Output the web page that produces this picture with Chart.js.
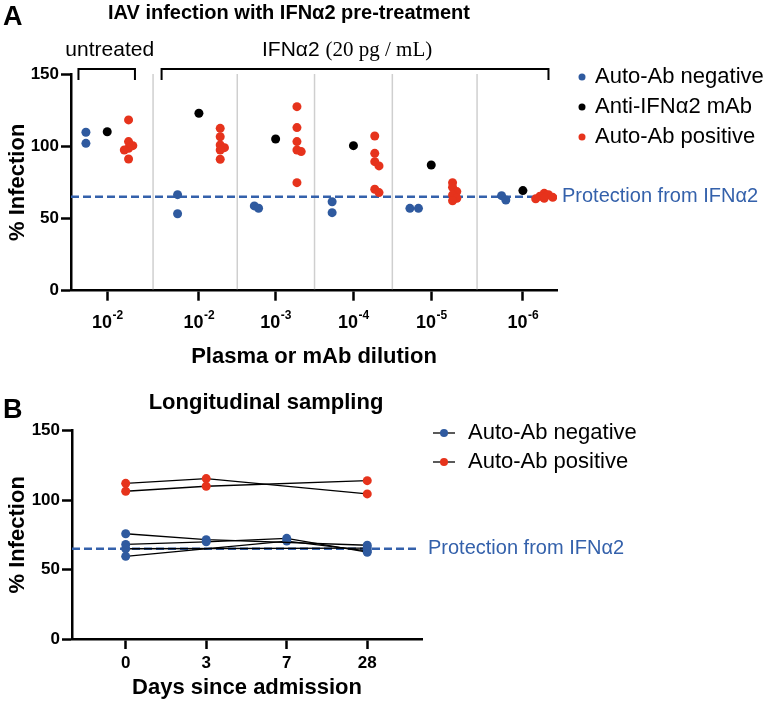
<!DOCTYPE html>
<html>
<head>
<meta charset="utf-8">
<script src="https://cdn.jsdelivr.net/npm/chart.js@4.4.1/dist/chart.umd.min.js"></script>
<style>
  body { margin: 0; background: #fff; width: 777px; height: 701px; overflow: hidden; position: relative; }
  canvas { position: absolute; left: 0; }
  #chartA { top: 0; }
  #chartB { top: 380px; }
</style>
</head>
<body>
<canvas id="chartA" width="777" height="380"></canvas>
<canvas id="chartB" width="777" height="321"></canvas>
<script>
// ---- data, panel A ----
const dilutionExp = ['-2', '-2', '-3', '-4', '-5', '-6'];
const negValues = [[109.7, 102], [66.5, 53.3], [58.7, 57.1], [61.6, 54], [57, 57], [65.8, 62.8]];
const mabValues = [110, 122.8, 105, 100.4, 87, 69.3];
const posValues = [
  [118.2, 103.2, 100.4, 98.6, 97.4, 91.2],
  [112.4, 106.6, 100.9, 99, 97.4, 91],
  [127.4, 112.9, 103.2, 97.4, 96.3, 74.8],
  [107.1, 95.1, 89.3, 86.4, 70.2, 67.9],
  [74.8, 71.6, 68.6, 66.3, 64, 62.3],
  [67.4, 66.4, 65.4, 64.6, 64, 63.6]
];
const yTicks = [0, 50, 100, 150];
const protectionLevel = 65;

// ---- data, panel B ----
const days = ['0', '3', '7', '28'];
const negSeries = [
  [75.8, 71.5, null, 67.5],
  [68.1, 70, 72.5, 62.5],
  [65, null, null, 65.5],
  [59.5, null, 70.5, 63.5]
];
const posSeries = [
  [112.1, 115.5, null, 104.5],
  [106.4, 110, null, 114]
];

// ---- style / layout ----
const SANS = '"Liberation Sans", Arial, sans-serif';
const BLUE = '#2f5a9f';
const RED = '#e6331c';
const DASH = '#3461ab';
Chart.defaults.font.family = SANS;
Chart.defaults.color = '#000';

// centre column of every group on the x axis (1 unit = one column)
const groupPos = [1.7, 6.0, 9.6, 13.25, 16.9, 21.2];
const X_MAX_A = 22.8;
const PX_X = 486 / X_MAX_A, PX_Y = 216.7 / 150;

function swarm(vals) {
  const placed = [];
  const steps = [0, 0.2, -0.2, 0.4, -0.4, 0.6, -0.6];
  return vals.map(v => {
    for (const dx of steps) {
      if (placed.every(p => Math.hypot((p.dx - dx) * PX_X, (p.v - v) * PX_Y) >= 4.5)) {
        placed.push({dx, v});
        return dx;
      }
    }
    placed.push({dx: 0, v});
    return 0;
  });
}

function columnPoints(groups, col) {
  const out = [];
  groups.forEach((vals, g) => {
    const arr = Array.isArray(vals) ? vals : [vals];
    const off = swarm(arr);
    arr.forEach((v, i) => out.push({x: groupPos[g] + col + off[i], y: v}));
  });
  return out;
}

function axisCommon() {
  return {
    grid: { drawOnChartArea: false, drawTicks: true, tickLength: 10, tickColor: '#000', tickWidth: 2.5 },
    border: { color: '#000', width: 2.5 }
  };
}

// ---- panel A ----
const decorA = {
  id: 'decorA',
  beforeDatasetsDraw(chart) {
    const {ctx, chartArea: ca, scales: {x, y}} = chart;
    ctx.save();
    ctx.strokeStyle = '#cfcfcf';
    ctx.lineWidth = 1.5;
    for (let i = 0; i < groupPos.length - 1; i++) {
      const px = x.getPixelForValue((groupPos[i] + groupPos[i + 1]) / 2);
      ctx.beginPath();
      ctx.moveTo(px, ca.top);
      ctx.lineTo(px, ca.bottom - 1.5);
      ctx.stroke();
    }
    const py = y.getPixelForValue(protectionLevel);
    ctx.strokeStyle = DASH;
    ctx.lineWidth = 2.5;
    ctx.setLineDash([8, 4]);
    ctx.beginPath();
    ctx.moveTo(ca.left, py);
    ctx.lineTo(ca.right, py);
    ctx.stroke();
    ctx.restore();
  },
  afterDraw(chart) {
    const {ctx, chartArea: ca, scales: {x, y}} = chart;
    ctx.save();
    ctx.fillStyle = '#000';
    ctx.textBaseline = 'alphabetic';

    ctx.font = 'bold 27px ' + SANS;
    ctx.textAlign = 'left';
    ctx.fillText('A', 3, 25);

    ctx.font = 'bold 20px ' + SANS;
    ctx.textAlign = 'center';
    ctx.fillText('IAV infection with IFNα2 pre-treatment', 289, 18.5);

    // brackets and group labels
    ctx.strokeStyle = '#000';
    ctx.lineWidth = 2;
    const bracket = (x1, x2) => {
      ctx.beginPath();
      ctx.moveTo(x1, 80); ctx.lineTo(x1, 69); ctx.lineTo(x2, 69); ctx.lineTo(x2, 80);
      ctx.stroke();
    };
    const b1l = x.getPixelForValue(groupPos[0] - 1.35), b1r = x.getPixelForValue(groupPos[0] + 1.3);
    bracket(b1l, b1r);
    bracket(x.getPixelForValue(groupPos[1] - 1.75), x.getPixelForValue(groupPos[5] + 1.2));
    ctx.font = '21px ' + SANS;
    ctx.fillText('untreated', (b1l + b1r) / 2 + 3, 56);
    ctx.textAlign = 'left';
    ctx.fillText('IFNα2', 262, 56);
    const w = ctx.measureText('IFNα2 ').width;
    ctx.font = '21px "Liberation Serif", "Times New Roman", serif';
    ctx.fillText('(20 pg / mL)', 262 + w, 56);

    // x tick labels 10^n
    groupPos.forEach((g, i) => {
      const px = x.getPixelForValue(g);
      ctx.font = 'bold 18px ' + SANS;
      const w1 = ctx.measureText('10').width;
      ctx.font = 'bold 12px ' + SANS;
      const w2 = ctx.measureText(dilutionExp[i]).width;
      const left = px - (w1 + w2) / 2;
      ctx.font = 'bold 18px ' + SANS;
      ctx.fillText('10', left, 328);
      ctx.font = 'bold 12px ' + SANS;
      ctx.fillText(dilutionExp[i], left + w1 + 0.5, 319);
    });

    // protection label
    ctx.font = '20px ' + SANS;
    ctx.fillStyle = DASH;
    ctx.textBaseline = 'middle';
    ctx.fillText('Protection from IFNα2', ca.right + 5, y.getPixelForValue(protectionLevel));

    // legend
    chart.data.datasets.forEach((ds, i) => {
      const ly = 77 + i * 30;
      ctx.fillStyle = ds.backgroundColor;
      ctx.beginPath();
      ctx.arc(582, ly, 3.5, 0, Math.PI * 2);
      ctx.fill();
      ctx.fillStyle = '#000';
      ctx.font = '22px ' + SANS;
      ctx.fillText(ds.label, 595, ly);
    });
    ctx.restore();
  }
};

new Chart(document.getElementById('chartA'), {
  type: 'scatter',
  data: {
    datasets: [
      { label: 'Auto-Ab negative', data: columnPoints(negValues, -1), backgroundColor: BLUE, borderColor: BLUE },
      { label: 'Anti-IFNα2 mAb', data: columnPoints(mabValues, 0), backgroundColor: '#000', borderColor: '#000' },
      { label: 'Auto-Ab positive', data: columnPoints(posValues, 1), backgroundColor: RED, borderColor: RED }
    ]
  },
  options: {
    responsive: false,
    animation: false,
    layout: { padding: { top: 74, right: 220, bottom: 0, left: 0 } },
    elements: { point: { radius: 4.5, borderWidth: 0 } },
    plugins: { legend: { display: false }, tooltip: { enabled: false } },
    scales: {
      x: Object.assign(axisCommon(), {
        type: 'linear', min: 0, max: X_MAX_A,
        afterBuildTicks: s => { s.ticks = groupPos.map(v => ({value: v})); },
        afterFit: s => { s.height = 89.3; },
        ticks: { display: false },
        title: { display: true, text: 'Plasma or mAb dilution', color: '#000',
                 font: { size: 22, weight: 'bold' }, padding: { top: 0, bottom: 10 } }
      }),
      y: Object.assign(axisCommon(), {
        min: 0, max: 150,
        afterBuildTicks: s => { s.ticks = yTicks.map(v => ({value: v})); },
        afterFit: s => { s.width = 71; },
        ticks: { color: '#000', font: { size: 17, weight: 'bold' }, padding: 2 },
        title: { display: true, text: '% Infection', color: '#000',
                 font: { size: 22, weight: 'bold' }, padding: { top: 5, bottom: 0 } }
      })
    }
  },
  plugins: [decorA]
});

// ---- panel B ----
const decorB = {
  id: 'decorB',
  beforeDatasetsDraw(chart) {
    const {ctx, chartArea: ca, scales: {y}} = chart;
    const py = y.getPixelForValue(protectionLevel);
    ctx.save();
    ctx.strokeStyle = DASH;
    ctx.lineWidth = 2.5;
    ctx.setLineDash([8, 4]);
    ctx.beginPath();
    ctx.moveTo(ca.left, py);
    ctx.lineTo(ca.right - 4, py);
    ctx.stroke();
    ctx.restore();
  },
  afterDraw(chart) {
    const {ctx, chartArea: ca, scales: {y}} = chart;
    ctx.save();
    ctx.fillStyle = '#000';
    ctx.textBaseline = 'alphabetic';
    ctx.font = 'bold 27px ' + SANS;
    ctx.textAlign = 'left';
    ctx.fillText('B', 3, 38);
    ctx.font = 'bold 22px ' + SANS;
    ctx.textAlign = 'center';
    ctx.fillText('Longitudinal sampling', 266, 29);

    ctx.textAlign = 'left';
    ctx.textBaseline = 'middle';
    ctx.font = '20px ' + SANS;
    ctx.fillStyle = DASH;
    ctx.fillText('Protection from IFNα2', ca.right + 6, y.getPixelForValue(protectionLevel));

    const items = [
      { label: 'Auto-Ab negative', color: BLUE },
      { label: 'Auto-Ab positive', color: RED }
    ];
    items.forEach((it, i) => {
      const ly = 53 + i * 29;
      ctx.strokeStyle = '#000';
      ctx.lineWidth = 1.3;
      ctx.beginPath();
      ctx.moveTo(433, ly); ctx.lineTo(455, ly);
      ctx.stroke();
      ctx.fillStyle = it.color;
      ctx.beginPath();
      ctx.arc(444, ly, 4, 0, Math.PI * 2);
      ctx.fill();
      ctx.fillStyle = '#000';
      ctx.font = '22px ' + SANS;
      ctx.fillText(it.label, 468, ly);
    });
    ctx.restore();
  }
};

function seriesDataset(values, color, label) {
  return {
    label: label,
    data: values.map((v, i) => ({x: i, y: v})),
    borderColor: '#000',
    borderWidth: 1.3,
    pointBackgroundColor: color,
    pointBorderColor: color,
    pointBorderWidth: 0,
    pointRadius: 4.5,
    spanGaps: true
  };
}

new Chart(document.getElementById('chartB'), {
  type: 'line',
  data: {
    datasets: negSeries.map(s => seriesDataset(s, BLUE, 'Auto-Ab negative'))
      .concat(posSeries.map(s => seriesDataset(s, RED, 'Auto-Ab positive')))
  },
  options: {
    responsive: false,
    animation: false,
    layout: { padding: { top: 50.7, right: 355, bottom: 0, left: 0 } },
    plugins: { legend: { display: false }, tooltip: { enabled: false } },
    scales: {
      x: Object.assign(axisCommon(), {
        type: 'linear', min: -0.667, max: 3.68,
        afterBuildTicks: s => { s.ticks = days.map((d, i) => ({value: i})); },
        afterFit: s => { s.height = 62; },
        ticks: { color: '#000', font: { size: 17, weight: 'bold' }, padding: 4,
                 callback: v => days[v] },
        title: { display: true, text: 'Days since admission', color: '#000',
                 font: { size: 22, weight: 'bold' }, padding: { top: 0, bottom: 0 } }
      }),
      y: Object.assign(axisCommon(), {
        min: 0, max: 150,
        afterBuildTicks: s => { s.ticks = yTicks.map(v => ({value: v})); },
        afterFit: s => { s.width = 72; },
        ticks: { color: '#000', font: { size: 17, weight: 'bold' }, padding: 2 },
        title: { display: true, text: '% Infection', color: '#000',
                 font: { size: 22, weight: 'bold' }, padding: { top: 5, bottom: 0 } }
      })
    }
  },
  plugins: [decorB]
});
</script>
</body>
</html>
